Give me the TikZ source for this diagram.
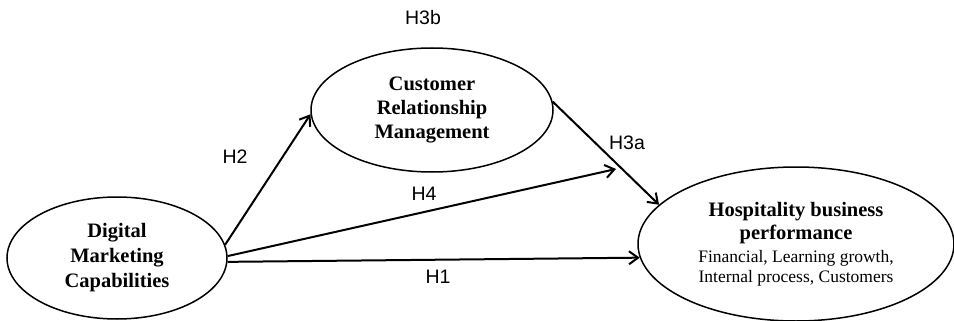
\documentclass[tikz,border=0pt]{standalone}
\usepackage{fontspec}
\setmainfont{Liberation Serif}
\newfontfamily\labelfont{Liberation Sans}
\usetikzlibrary{shapes.geometric,arrows.meta}

\newcommand{\headfont}{\fontsize{20.5}{22.5}\selectfont\bfseries}
\newcommand{\subfont}{\fontsize{17.5}{22.5}\selectfont\mdseries}

\begin{document}
\begin{tikzpicture}[x=1pt,y=-1pt,
  construct/.style={draw, ellipse, line width=1.5pt, inner sep=0pt, align=center},
  hpath/.style={line width=2pt, -{Straight Barb[length=9pt,width=13pt,line width=2pt]}},
  hyp/.style={font=\labelfont\fontsize{19.5}{22}\selectfont}
]
\useasboundingbox (0,0) rectangle (954,321);

% latent constructs
\node[construct, minimum width=220pt, minimum height=122pt,
      font=\fontsize{20.5}{25}\selectfont\bfseries] (dmc) at (117,258)
  {Digital\\Marketing\\Capabilities};
\node[construct, minimum width=242pt, minimum height=124pt,
      font=\fontsize{20.5}{24}\selectfont\bfseries] (crm) at (432,110)
  {Customer\\Relationship\\Management};
\node[construct, minimum width=316pt, minimum height=154pt,
      font=\fontsize{20.5}{22.5}\selectfont] (hbp) at (796,244)
  {\headfont Hospitality business\\[0.5pt]
   \headfont performance\\
   \subfont Financial, Learning growth,\\[-2.5pt]
   \subfont Internal process, Customers};

% free end of the direct path H4
\coordinate (h4end) at (616,169);

% hypothesised paths
\draw[hpath] (dmc.7.8) -- (crm.182.4);
\draw[hpath] (dmc.1.6) -- (h4end);
\draw[hpath] (dmc.-2.6) -- (hbp.185.1);
\draw[hpath] (crm.4.8) -- (hbp.164);

% path labels
\node[hyp] (lh3b) at (423,18) {H3b};
\node[hyp] (lh2) at (235,157) {H2};
\node[hyp] (lh4) at (424,194) {H4};
\node[hyp] (lh1) at (438,277) {H1};
\node[hyp] (lh3a) at (627,143) {H3a};
\end{tikzpicture}
\end{document}
